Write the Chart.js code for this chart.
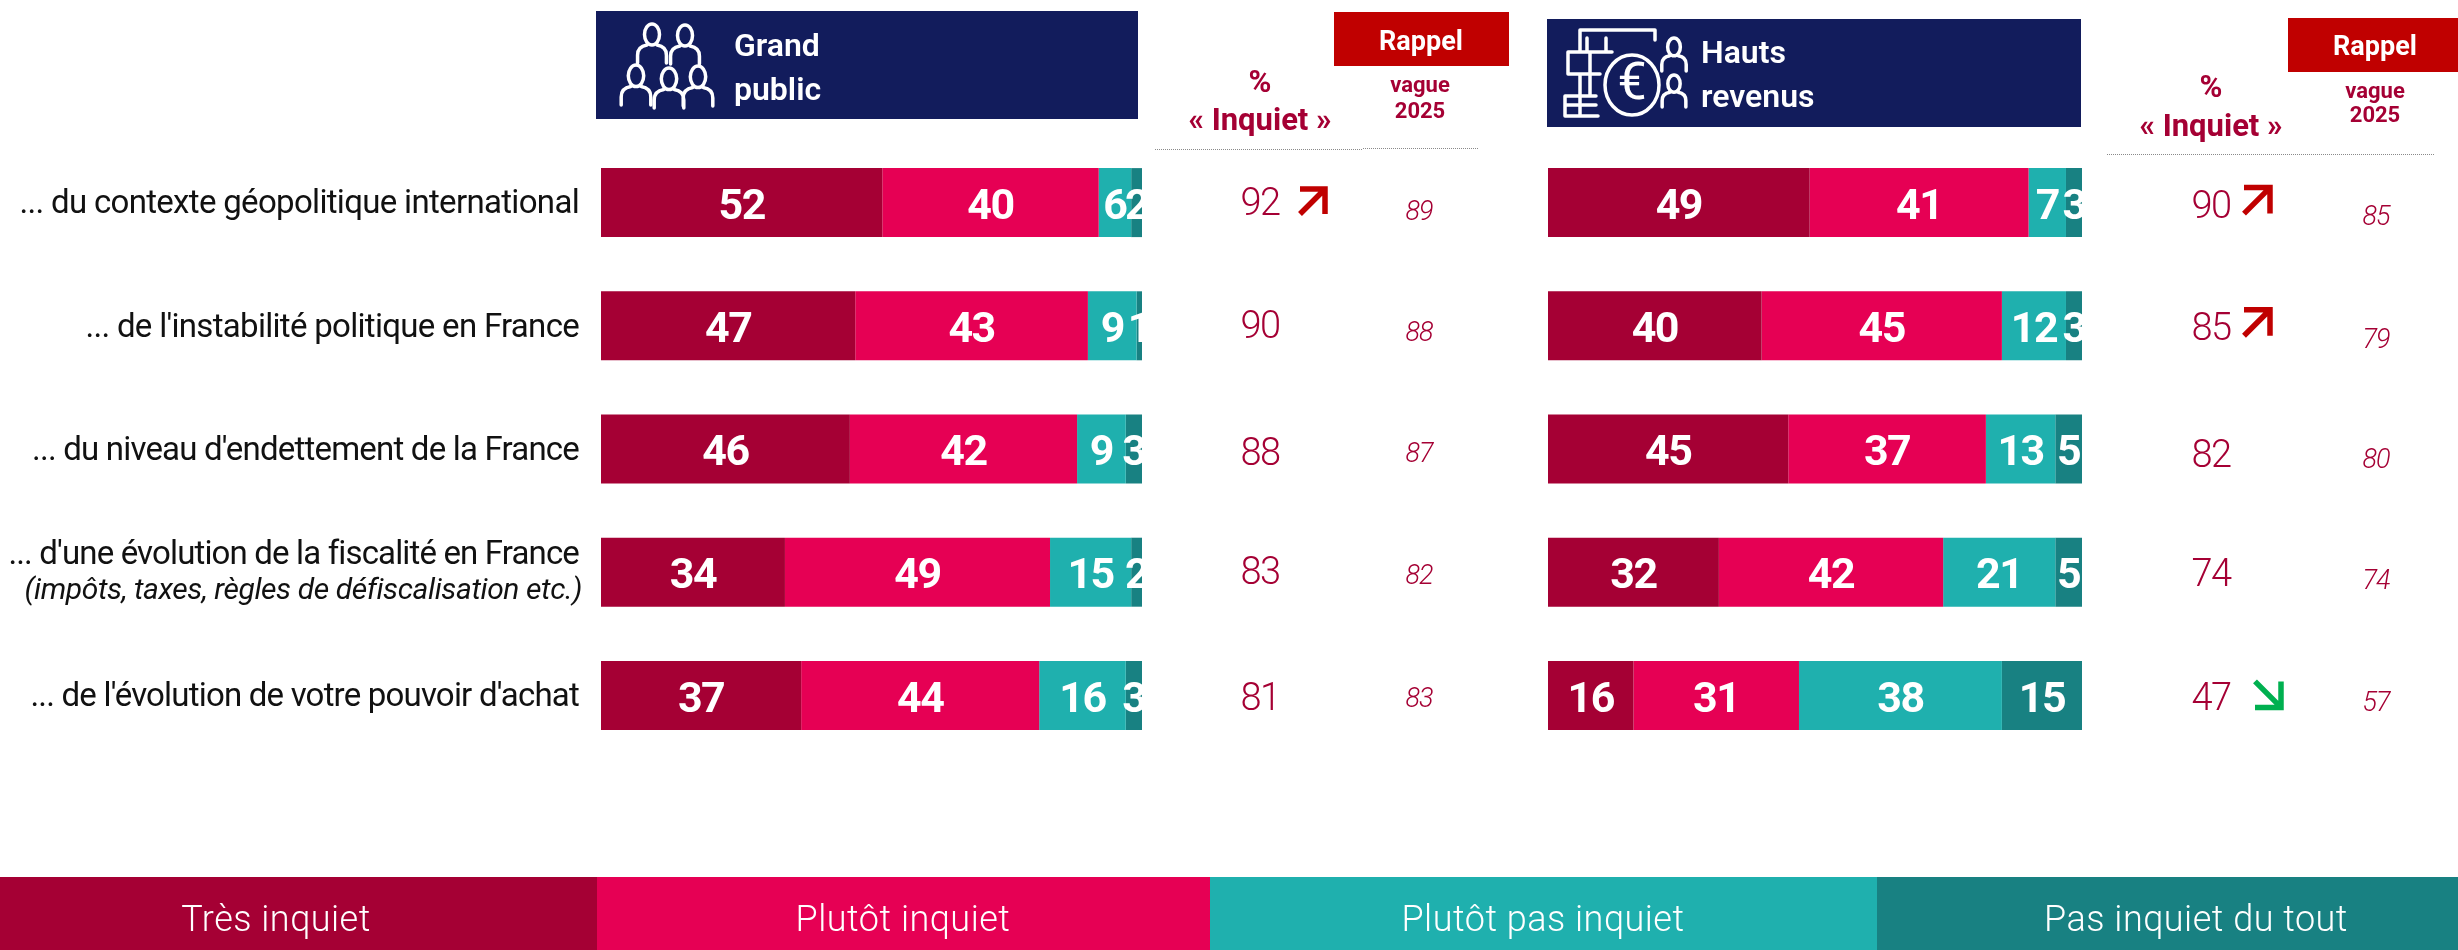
<!DOCTYPE html>
<html><head><meta charset="utf-8">
<style>html,body{margin:0;padding:0;background:#fff;width:2458px;height:950px;overflow:hidden}
canvas{position:absolute;left:0;top:0}</style>
<script src="https://cdn.jsdelivr.net/npm/chart.js@4"></script></head>
<body><canvas id="a" width="2458" height="950"></canvas><canvas id="b" width="2458" height="950"></canvas>
<script>
const categories=["... du contexte géopolitique international","... de l'instabilité politique en France","... du niveau d'endettement de la France","... d'une évolution de la fiscalité en France","... de l'évolution de votre pouvoir d'achat"];
const categoryNote=[null,null,null,"(impôts, taxes, règles de défiscalisation etc.)",null];
const seriesNames=["Très inquiet","Plutôt inquiet","Plutôt pas inquiet","Pas inquiet du tout"];
const gpTres=[52,47,46,34,37];
const gpPlutot=[40,43,42,49,44];
const gpPlutotPas=[6,9,9,15,16];
const gpPas=[2,1,3,2,3];
const hrTres=[49,40,45,32,16];
const hrPlutot=[41,45,37,42,31];
const hrPlutotPas=[7,12,13,21,38];
const hrPas=[3,3,5,5,15];
const gpInquiet=[92,90,88,83,81];
const gpRappel=[89,88,87,82,83];
const gpTrend=["up",null,null,null,null];
const hrInquiet=[90,85,82,74,47];
const hrRappel=[85,79,80,74,57];
const hrTrend=["up","up",null,null,"down"];

const COL=["#A50034","#E60054","#1FB0AE","#188182"];
const INK="#A50034",NAVY="#121C5C",RED="#C00000",GREEN="#00B050";
const F="Roboto, sans-serif";

function T(c,s,x,y,font,color,align,ls){c.save();c.font=font+" "+F;c.fillStyle=color;c.textAlign=align||"center";c.textBaseline="middle";c.letterSpacing=(ls||0)+"px";c.fillText(s,x,y+2.5);c.restore();}
function person(c,cx,top,h){const w=h*0.37;c.beginPath();c.ellipse(cx,top+h*0.27,w*0.52,h*0.27,0,0,7);c.stroke();
 c.beginPath();c.moveTo(cx-w,top+h);c.lineTo(cx-w,top+h*0.8);c.quadraticCurveTo(cx-w,top+h*0.58,cx-w*0.35,top+h*0.54);c.moveTo(cx+w,top+h);c.lineTo(cx+w,top+h*0.8);c.quadraticCurveTo(cx+w,top+h*0.58,cx+w*0.35,top+h*0.54);c.stroke();}
function iconCrowd(c){c.save();c.strokeStyle="#fff";c.lineWidth=3.5;c.lineCap="round";[[652,24],[685,25]].forEach(p=>person(c,p[0],p[1],39));[[636,65],[669,68],[698,66]].forEach(p=>person(c,p[0],p[1],40));c.restore();}
function iconEuro(c){c.save();c.strokeStyle="#fff";c.lineWidth=3.5;c.lineCap="round";c.lineJoin="round";
 c.beginPath();c.moveTo(1655,40);c.lineTo(1655,30);c.lineTo(1580,30);c.lineTo(1580,52);c.moveTo(1587,38);c.lineTo(1587,52);c.moveTo(1606,38);c.lineTo(1606,52);
 c.moveTo(1612,52);c.lineTo(1568,52);c.lineTo(1568,74);c.lineTo(1600,74);c.moveTo(1590,52);c.lineTo(1590,74);c.moveTo(1580,74);c.lineTo(1580,96);c.lineTo(1565,96);c.lineTo(1565,116);c.lineTo(1598,116);c.moveTo(1565,105);c.lineTo(1596,105);c.moveTo(1580,96);c.lineTo(1596,96);c.moveTo(1590,74);c.lineTo(1590,96);c.moveTo(1580,96);c.lineTo(1580,116);c.stroke();
 c.fillStyle=NAVY;c.beginPath();c.ellipse(1632,85,27,30,0,0,7);c.fill();c.stroke();
 c.restore();
 T(c,"€",1632,83,"400 52px","#fff");
 c.save();c.strokeStyle="#fff";c.lineWidth=3.5;c.lineCap="round";person(c,1674,38,33);person(c,1674,75,32);c.restore();}
function arrow(c,x0,y0,x1,y1,col){
 const dx=x1-x0,dy=y1-y0;c.save();c.strokeStyle=col;c.lineWidth=5.5;c.lineCap="butt";c.lineJoin="miter";c.beginPath();c.moveTo(x0,y0);c.lineTo(x1,y1);c.moveTo(x1-dx,y1);c.lineTo(x1,y1);c.lineTo(x1,y1-dy);c.stroke();c.restore();}
function dotted(c,x0,x1,y){c.save();c.strokeStyle="#8a8a8a";c.lineWidth=1;c.setLineDash([1,1]);c.beginPath();c.moveTo(x0,y);c.lineTo(x1,y);c.stroke();c.restore();}

const barLabels={id:"barLabels",afterDatasetsDraw(ch){const c=ch.ctx,A=ch.chartArea;c.save();c.beginPath();c.rect(A.left,A.top,A.right-A.left,A.bottom-A.top);c.clip();
 ch.data.datasets.forEach((d,i)=>{ch.getDatasetMeta(i).data.forEach((b,j)=>{T(c,String(d.data[j]),(b.x+b.base)/2,b.y+3,"700 43px","#fff","center",-1.5);});});c.restore();}};

function makeChart(id,series,padL,padR,extra){return new Chart(document.getElementById(id),{type:"bar",
 data:{labels:categories,datasets:series.map((s,i)=>({label:seriesNames[i],data:s,backgroundColor:COL[i],borderWidth:0,barPercentage:0.56,categoryPercentage:1}))},
 options:{indexAxis:"y",responsive:false,animation:false,events:[],layout:{padding:{left:padL,right:padR,top:141,bottom:193}},
  plugins:{legend:{display:false},tooltip:{enabled:false}},
  scales:{x:{stacked:true,min:0,max:100,display:false},y:{stacked:true,display:false}}},
 plugins:[barLabels,extra]});}

const gpPctOff=[0,0,4,0,3],gpRapOff=[8,6,4,3,2],hrPctOff=[3,2,6,2,3],hrRapOff=[13,13,10,8,6];
const labelTrack=[-0.68,-0.7,-0.8,-0.85,-0.8];
function columns(c,ch,vals,rap,pctX,rapX,pOff,rOff){const y=ch.scales.y;vals.forEach((v,i)=>{const m=y.getPixelForValue(i);
 T(c,String(v),pctX,m+pOff[i],"300 38px",INK,"center",-1.5);T(c,String(rap[i]),rapX,m+rOff[i],"italic 300 27px",INK,"center",-1);});}

const leftExtra={id:"leftExtra",afterDraw(ch){const c=ch.ctx,y=ch.scales.y;
 categories.forEach((s,i)=>{const m=y.getPixelForValue(i);
  if(categoryNote[i]){T(c,s,579,m-19,"400 33px","#111","right",labelTrack[i]);T(c,categoryNote[i],582,m+17,"italic 400 30px","#111","right",-0.4);}
  else T(c,s,579,m,"400 33px","#111","right",labelTrack[i]);});
 c.fillStyle=NAVY;c.fillRect(596,11,542,108);iconCrowd(c);
 T(c,"Grand",734,45,"600 32px","#fff","left");T(c,"public",734,89,"600 32px","#fff","left");
 c.fillStyle=RED;c.fillRect(1334,12,175,54);T(c,"Rappel",1421,41,"700 27px","#fff");
 T(c,"%",1260,82,"700 31px",INK);T(c,"« Inquiet »",1260,120,"700 31px",INK);
 T(c,"vague",1420,84,"700 22px",INK);T(c,"2025",1420,110,"700 22px",INK);
 dotted(c,1155,1363,149.5);dotted(c,1363,1478,148.5);
 columns(c,ch,gpInquiet,gpRappel,1260,1419,gpPctOff,gpRapOff);
 gpTrend.forEach((t,i)=>{if(t==="up")arrow(c,1300,214,1325,189,RED);});
 const edges=[0,597,1210,1877,2458],mid=[276,903,1543,2196];
 seriesNames.forEach((n,i)=>{c.fillStyle=COL[i];c.fillRect(edges[i],877,edges[i+1]-edges[i],73);T(c,n,mid[i],919,"300 36px","#fff","center",0.5);});
}};
const rightExtra={id:"rightExtra",afterDraw(ch){const c=ch.ctx;
 c.fillStyle=NAVY;c.fillRect(1547,19,534,108);iconEuro(c);
 T(c,"Hauts",1701,52,"600 32px","#fff","left");T(c,"revenus",1701,96,"600 32px","#fff","left");
 c.fillStyle=RED;c.fillRect(2288,18,170,54);T(c,"Rappel",2375,46,"700 27px","#fff");
 T(c,"%",2211,87,"700 31px",INK);T(c,"« Inquiet »",2211,126,"700 31px",INK);
 T(c,"vague",2375,90,"700 22px",INK);T(c,"2025",2375,114,"700 22px",INK);
 dotted(c,2107,2316,154.5);dotted(c,2317,2434,154.5);
 columns(c,ch,hrInquiet,hrRappel,2211,2376,hrPctOff,hrRapOff);
 const y=ch.scales.y;
 hrTrend.forEach((t,i)=>{const m=y.getPixelForValue(i);if(t==="up")arrow(c,2244,m+11-(i?1:0),2270,m-15-(i?1:0),RED);if(t==="down")arrow(c,2255,m-14,2281,m+12,GREEN);});
}};
makeChart("a",[gpTres,gpPlutot,gpPlutotPas,gpPas],601,1316,leftExtra);
makeChart("b",[hrTres,hrPlutot,hrPlutotPas,hrPas],1548,376,rightExtra);
</script></body></html>
